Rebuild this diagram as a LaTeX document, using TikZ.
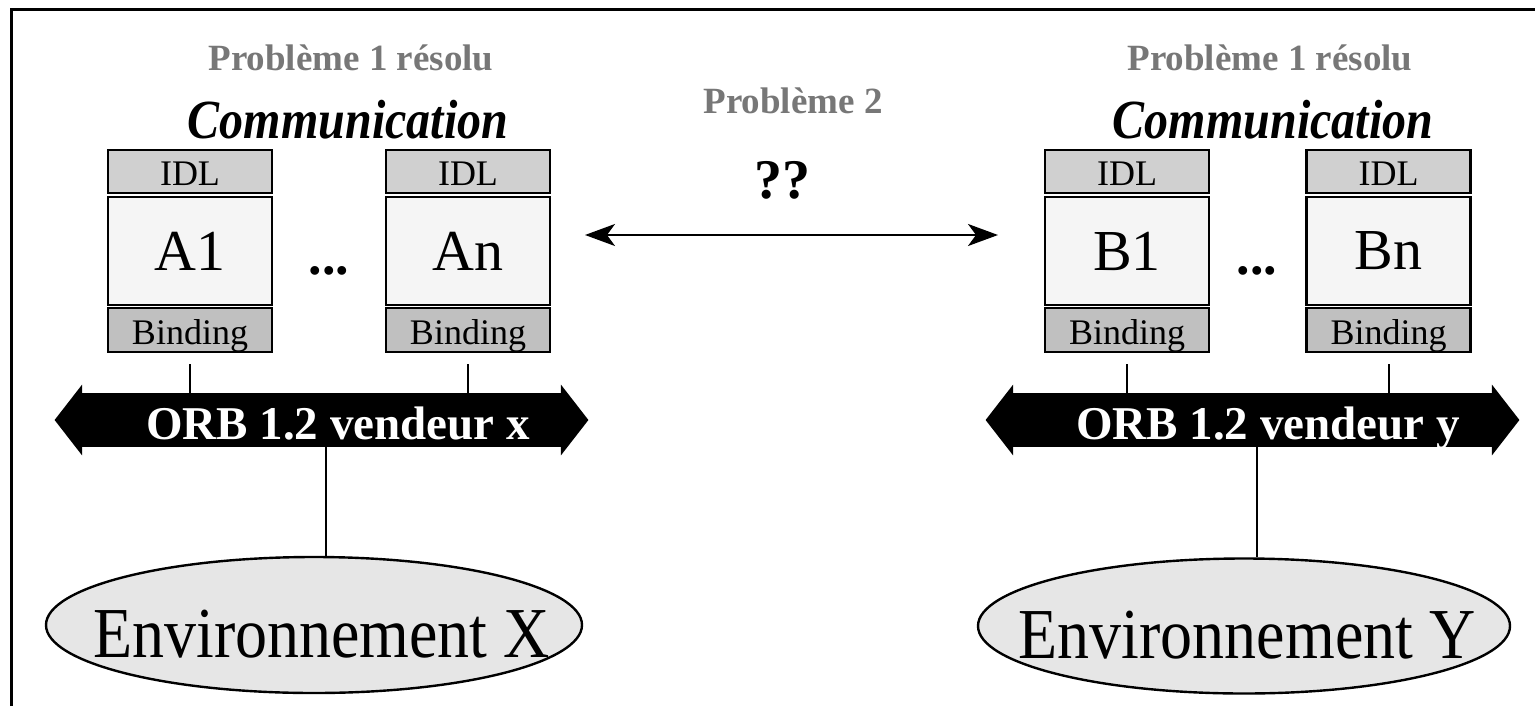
\documentclass[tikz,border=0pt]{standalone}
\usepackage{graphicx}
\usepackage{fontspec}
\setmainfont{Liberation Serif}
\usetikzlibrary{shapes.geometric,calc,arrows.meta}

\definecolor{probgray}{HTML}{777777}
\definecolor{idlfill}{HTML}{D0D0D0}
\definecolor{corefill}{HTML}{F5F5F5}
\definecolor{bindfill}{HTML}{C0C0C0}
\definecolor{envfill}{HTML}{E6E6E6}

% text set slightly taller than the font's natural proportions
\newcommand{\tallertext}[2]{\scalebox{1}[#1]{#2}}

\begin{document}
\begin{tikzpicture}[x=0.5pt,y=-0.5pt,
  layer/.style={draw=black, line width=1.2pt, inner sep=0pt, minimum width=82pt},
  idl/.style={layer, fill=idlfill, minimum height=21.5pt,
    font=\fontsize{18}{18}\selectfont, text height=14pt, text depth=0pt},
  core/.style={layer, fill=corefill, minimum height=54pt,
    font=\fontsize{29}{29}\selectfont},
  bind/.style={layer, fill=bindfill, minimum height=22pt,
    font=\fontsize{18}{18}\selectfont, text height=14pt, text depth=0pt},
  shaft/.style={fill=black, inner sep=0pt, minimum width=239.5pt, minimum height=27pt},
  orbtext/.style={anchor=base, text=white, font=\fontsize{23.5}{23.5}\selectfont\bfseries},
  env/.style={ellipse, draw=black, line width=1.2pt, fill=envfill, inner sep=0pt},
  envtext/.style={anchor=base, inner sep=0pt, font=\fontsize{32}{32}\selectfont},
  solved/.style={anchor=base, text=probgray, font=\fontsize{18.5}{18.5}\selectfont\bfseries},
  title/.style={anchor=base, inner sep=0pt, font=\fontsize{24}{24}\selectfont\bfseries\itshape},
  dots/.style={anchor=base, font=\fontsize{27}{27}\selectfont\bfseries},
  conn/.style={line width=1pt},
  dbl/.style={line width=1pt, {Stealth[length=15pt,width=11pt,inset=4pt]}-{Stealth[length=15pt,width=11pt,inset=4pt]}}
]
\useasboundingbox (0,0) rectangle (1535,706);

% frame
\draw[line width=1.5pt] (11,706) -- (11,10) -- (1535,10);

% ---------- left side ----------
\node[solved] (solvedX) at (351,71) {Problème 1 résolu};
\node[title] (titleX) at (348,138) {\tallertext{1.15}{Communication}};

\node[idl]  (idlA1)  at (190,171.5) {IDL};
\node[core] (coreA1) at (190,251) {A1};
\node[bind] (bindA1) at (190,330) {Binding};

\node[idl]  (idlAn)  at (468,171.5) {IDL};
\node[core] (coreAn) at (468,251) {An};
\node[bind] (bindAn) at (468,330) {Binding};

\node[dots] (dotsA) at (329,274) {...};

\node[shaft] (orbX) at (321.5,420) {};
\fill ($(orbX.north west)+(0.5,-8)$) -- ($(orbX.west)+(-27,0)$) -- ($(orbX.south west)+(0.5,8)$) -- cycle;
\fill ($(orbX.north east)+(-0.5,-8)$) -- ($(orbX.east)+(27,0)$) -- ($(orbX.south east)+(-0.5,8)$) -- cycle;
\node[orbtext] (orbXt) at (338,439) {ORB 1.2 vendeur x};

\draw[conn] ([yshift=-5.5pt]bindA1.south) -- (bindA1.south |- orbX.north);
\draw[conn] ([yshift=-5.5pt]bindAn.south) -- (bindAn.south |- orbX.north);

\node[env, minimum width=268pt, minimum height=68pt] (envX) at (314,625) {};
\node[envtext] (envXt) at (321.5,657) {\tallertext{1.12}{Environnement X}};
\coordinate (orbXdown) at ($(orbX.south)+(4.5,0)$);
\draw[conn] (orbXdown) -- (orbXdown |- envX.north);

% ---------- right side ----------
\node[solved] (solvedY) at (1270,71) {Problème 1 résolu};
\node[title] (titleY) at (1273,138) {\tallertext{1.15}{Communication}};

\node[idl]  (idlB1)  at (1127,171.5) {IDL};
\node[core] (coreB1) at (1127,251) {B1};
\node[bind] (bindB1) at (1127,330) {Binding};

\node[idl]  (idlBn)  at (1388.5,171.5) {IDL};
\node[core] (coreBn) at (1388.5,251) {Bn};
\node[bind] (bindBn) at (1388.5,330) {Binding};

\node[dots] (dotsB) at (1257,274) {...};

\node[shaft] (orbY) at (1252.5,420) {};
\fill ($(orbY.north west)+(0.5,-8)$) -- ($(orbY.west)+(-27,0)$) -- ($(orbY.south west)+(0.5,8)$) -- cycle;
\fill ($(orbY.north east)+(-0.5,-8)$) -- ($(orbY.east)+(27,0)$) -- ($(orbY.south east)+(-0.5,8)$) -- cycle;
\node[orbtext] (orbYt) at (1268,439) {ORB 1.2 vendeur y};

\draw[conn] ([yshift=-5.5pt]bindB1.south) -- (bindB1.south |- orbY.north);
\draw[conn] ([yshift=-5.5pt]bindBn.south) -- (bindBn.south |- orbY.north);

\node[env, minimum width=266pt, minimum height=67.5pt] (envY) at (1244,626) {};
\node[envtext] (envYt) at (1247,658) {\tallertext{1.12}{Environnement Y}};
\coordinate (orbYdown) at ($(orbY.south)+(4.5,0)$);
\draw[conn] (orbYdown) -- (orbYdown |- envY.north);

% ---------- between the two sides ----------
\node[solved] (prob2) at (793,113) {Problème 2};
\node[anchor=base, font=\fontsize{28}{28}\selectfont\bfseries] (qq) at (782,198) {??};
\coordinate (linkL) at (585,235);
\coordinate (linkR) at (998,235);
\draw[dbl] (linkL) -- (linkR);
\end{tikzpicture}
\end{document}
